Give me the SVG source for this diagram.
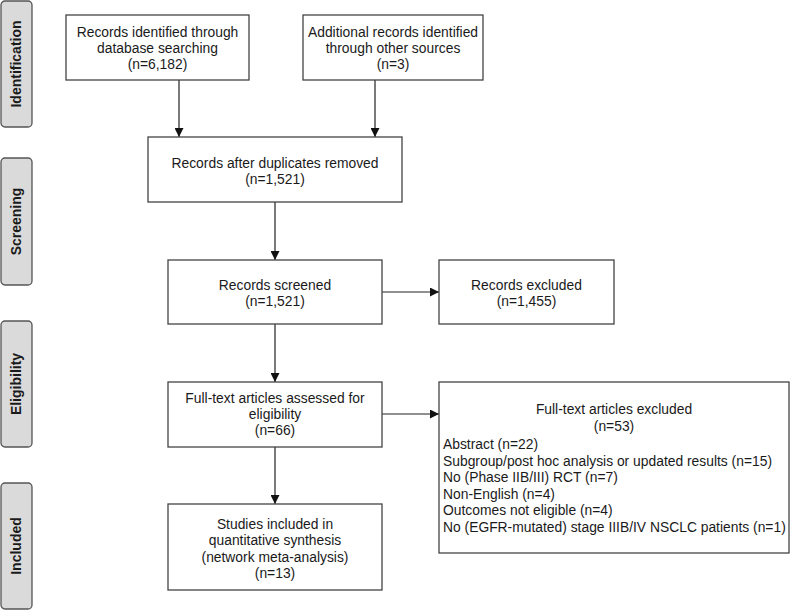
<svg xmlns="http://www.w3.org/2000/svg" width="790" height="610" viewBox="0 0 790 610">
<style>
.box{fill:#fff;stroke:#444;stroke-width:1.3}
.side{fill:#dadada;stroke:#555;stroke-width:1.3}
.t{font-family:"Liberation Sans",Arial,sans-serif;font-size:13.85px;fill:#1a1a1a}
.c{text-anchor:middle}
.s{font-family:"Liberation Sans",Arial,sans-serif;font-size:14px;font-weight:bold;fill:#1a1a1a;text-anchor:middle}
.ln{stroke:#222;stroke-width:1.2;fill:none;marker-end:url(#ah)}
</style>
<defs>
<marker id="ah" viewBox="0 0 10 10" refX="10" refY="5" markerWidth="9" markerHeight="9" markerUnits="userSpaceOnUse" orient="auto">
<path d="M0,0 L10,5 L0,10 z" fill="#111"/>
</marker>
</defs>
<rect width="790" height="610" fill="#fff"/>
<g id="stage-identification"><rect class="side" x="1" y="1" width="31" height="126" rx="4"/><text class="s" transform="translate(21,64) rotate(-90)">Identification</text></g>
<g id="stage-screening"><rect class="side" x="1" y="158" width="31" height="127" rx="4"/><text class="s" transform="translate(21,221.5) rotate(-90)">Screening</text></g>
<g id="stage-eligibility"><rect class="side" x="1" y="321" width="31" height="126" rx="4"/><text class="s" transform="translate(21,384) rotate(-90)">Eligibility</text></g>
<g id="stage-included"><rect class="side" x="1" y="483" width="31" height="126" rx="4"/><text class="s" transform="translate(21,546) rotate(-90)">Included</text></g>

<g id="connectors">
<line class="ln" x1="179" y1="80" x2="179" y2="137"/>
<line class="ln" x1="375" y1="80" x2="375" y2="137"/>
<line class="ln" x1="275" y1="202" x2="275" y2="260"/>
<line class="ln" x1="275" y1="324" x2="275" y2="382"/>
<line class="ln" x1="275" y1="447" x2="275" y2="504"/>
<line class="ln" x1="382" y1="292" x2="439" y2="292"/>
<line class="ln" x1="382" y1="414" x2="439" y2="414"/>
</g>

<g id="db-records"><rect class="box" x="66" y="15" width="183" height="65"/>
<text class="t c" x="157.5" y="36.5">Records identified through</text>
<text class="t c" x="157.5" y="52.5">database searching</text>
<text class="t c" x="157.5" y="68.5">(n=6,182)</text></g>

<g id="other-records"><rect class="box" x="303" y="15" width="180" height="65"/>
<text class="t c" x="393" y="36.5">Additional records identified</text>
<text class="t c" x="393" y="52.5">through other sources</text>
<text class="t c" x="393" y="68.5">(n=3)</text></g>

<g id="dedup"><rect class="box" x="148" y="137" width="254" height="65"/>
<text class="t c" x="275" y="167.5">Records after duplicates removed</text>
<text class="t c" x="275" y="184">(n=1,521)</text></g>

<g id="screened"><rect class="box" x="168" y="260" width="214" height="64"/>
<text class="t c" x="275" y="289.5">Records screened</text>
<text class="t c" x="275" y="306">(n=1,521)</text></g>

<g id="excluded"><rect class="box" x="439" y="260" width="175" height="64"/>
<text class="t c" x="526.5" y="289.5">Records excluded</text>
<text class="t c" x="526.5" y="306">(n=1,455)</text></g>

<g id="fulltext"><rect class="box" x="168" y="382" width="214" height="65"/>
<text class="t c" x="275" y="403">Full-text articles assessed for</text>
<text class="t c" x="275" y="419">eligibility</text>
<text class="t c" x="275" y="435">(n=66)</text></g>

<g id="fulltext-excluded"><rect class="box" x="439" y="382" width="350" height="171"/>
<text class="t c" x="614" y="413.5">Full-text articles excluded</text>
<text class="t c" x="614" y="430.5">(n=53)</text>
<text class="t" x="443" y="449">Abstract (n=22)</text>
<text class="t" x="443" y="465.5">Subgroup/post hoc analysis or updated results (n=15)</text>
<text class="t" x="443" y="482">No (Phase IIB/III) RCT (n=7)</text>
<text class="t" x="443" y="498.5">Non-English (n=4)</text>
<text class="t" x="443" y="515">Outcomes not eligible (n=4)</text>
<text class="t" x="443" y="531.5">No (EGFR-mutated) stage IIIB/IV NSCLC patients (n=1)</text></g>

<g id="included"><rect class="box" x="168" y="504" width="214" height="86"/>
<text class="t c" x="275" y="528.5">Studies included in</text>
<text class="t c" x="275" y="545">quantitative synthesis</text>
<text class="t c" x="275" y="561.5">(network meta-analysis)</text>
<text class="t c" x="275" y="578">(n=13)</text></g>
</svg>
